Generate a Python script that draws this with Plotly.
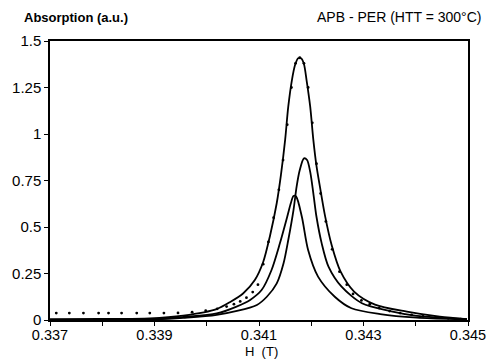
import plotly.graph_objects as go

# Field H (T) and absorption (a.u.)
big_x = [0.33700, 0.33796, 0.33891, 0.33955, 0.34019, 0.34045, 0.34070, 0.34092, 0.34108,
         0.34121, 0.34134, 0.34142, 0.34150, 0.34156, 0.34163, 0.34169, 0.34175, 0.34181,
         0.34186, 0.34191, 0.34198, 0.34204, 0.34210, 0.34217, 0.34226, 0.34239, 0.34256,
         0.34282, 0.34322, 0.34383, 0.34446, 0.34498]
big_y = [0.004, 0.006, 0.009, 0.024, 0.059, 0.097, 0.144, 0.215, 0.312,
         0.452, 0.629, 0.780, 0.968, 1.147, 1.290, 1.371, 1.407, 1.406,
         1.376, 1.290, 1.147, 0.968, 0.828, 0.710, 0.565, 0.403, 0.261,
         0.153, 0.083, 0.045, 0.018, 0.005]

mid_x = [0.33700, 0.33891, 0.33955, 0.34019, 0.34096, 0.34115, 0.34134, 0.34147, 0.34156,
         0.34166, 0.34172, 0.34178, 0.34186, 0.34192, 0.34198, 0.34204, 0.34210, 0.34220,
         0.34233, 0.34258, 0.34297, 0.34351, 0.34402, 0.34498]
mid_y = [0.000, 0.003, 0.011, 0.027, 0.081, 0.125, 0.197, 0.305, 0.430,
         0.591, 0.717, 0.806, 0.869, 0.860, 0.796, 0.681, 0.555, 0.412,
         0.287, 0.179, 0.090, 0.048, 0.022, 0.004]

low_x = [0.33700, 0.33891, 0.33955, 0.34019, 0.34057, 0.34083, 0.34105, 0.34124, 0.34140,
         0.34154, 0.34161, 0.34166, 0.34171, 0.34182, 0.34194, 0.34213, 0.34245, 0.34277,
         0.34332, 0.34402, 0.34498]
low_y = [0.000, 0.003, 0.016, 0.035, 0.072, 0.108, 0.161, 0.269, 0.412,
         0.555, 0.629, 0.667, 0.664, 0.555, 0.376, 0.233, 0.125, 0.063,
         0.032, 0.013, 0.003]

exp_x = [0.33712, 0.33737, 0.33764, 0.33793, 0.33812, 0.33837, 0.33866, 0.33891, 0.33918,
         0.33945, 0.33972, 0.33998, 0.34020, 0.34038, 0.34052, 0.34064, 0.34076, 0.34088,
         0.34098, 0.34108, 0.34118, 0.34128, 0.34138, 0.34146, 0.34154, 0.34162, 0.34170,
         0.34178, 0.34186, 0.34194, 0.34202, 0.34210, 0.34218, 0.34228, 0.34240, 0.34254,
         0.34268, 0.34280, 0.34296, 0.34312, 0.34330, 0.34350, 0.34370, 0.34392, 0.34414,
         0.34438, 0.34462, 0.34486]
exp_y = [0.037, 0.037, 0.037, 0.037, 0.037, 0.037, 0.037, 0.037, 0.037,
         0.038, 0.042, 0.050, 0.060, 0.072, 0.085, 0.100, 0.120, 0.150,
         0.190, 0.300, 0.420, 0.550, 0.700, 0.860, 1.050, 1.250, 1.380,
         1.410, 1.380, 1.250, 1.060, 0.840, 0.680, 0.530, 0.380, 0.260,
         0.190, 0.140, 0.105, 0.085, 0.064, 0.048, 0.037, 0.028, 0.020,
         0.014, 0.009, 0.005]

x_tickvals = [0.337, 0.338, 0.339, 0.340, 0.341, 0.342, 0.343, 0.344, 0.345]
x_ticktext = ["0.337", "", "0.339", "", "0.341", "", "0.343", "", "0.345"]
y_tickvals = [0, 0.25, 0.5, 0.75, 1, 1.25, 1.5]
y_ticktext = ["0", "0.25", "0.5", "0.75", "1", "1.25", "1.5"]

font = "Liberation Sans, Arial, sans-serif"
fig = go.Figure()
for xs, ys in [(big_x, big_y), (mid_x, mid_y), (low_x, low_y)]:
    fig.add_trace(go.Scatter(x=xs, y=ys, mode="lines",
                             line=dict(color="black", width=1.8, shape="spline", smoothing=0.8),
                             showlegend=False, hoverinfo="skip"))
fig.add_trace(go.Scatter(x=exp_x, y=exp_y, mode="markers",
                         marker=dict(color="black", size=2.8),
                         showlegend=False, hoverinfo="skip"))

fig.update_layout(
    width=490, height=360,
    margin=dict(l=50, r=22, t=41, b=40),
    paper_bgcolor="white", plot_bgcolor="white",
    font=dict(family=font, size=15, color="black"),
    xaxis=dict(range=[0.337, 0.345], tickvals=x_tickvals, ticktext=x_ticktext,
               showline=True, linecolor="black", linewidth=1.5, mirror=True,
               ticks="outside", ticklen=4, tickcolor="black", showgrid=False, zeroline=False,
               automargin=False, ticklabelstandoff=-3, tickfont=dict(size=14.5)),
    yaxis=dict(range=[0, 1.5], tickvals=y_tickvals, ticktext=y_ticktext,
               showline=True, linecolor="black", linewidth=1.5, mirror=True,
               ticks="outside", ticklen=4, tickcolor="black", showgrid=False, zeroline=False,
               automargin=False, ticklabelstandoff=0),
    annotations=[
        dict(text="<b>Absorption (a.u.)</b>", xref="paper", yref="paper",
             x=-0.067, y=1.086, xanchor="left", yanchor="middle", showarrow=False,
             font=dict(size=13)),
        dict(text="APB - PER (HTT = 300°C)", xref="paper", yref="paper",
             x=1.036, y=1.086, xanchor="right", yanchor="middle", showarrow=False,
             font=dict(size=14)),
        dict(text="H  (T)", xref="paper", yref="paper",
             x=0.507, y=-0.113, xanchor="center", yanchor="middle", showarrow=False,
             font=dict(size=13)),
    ],
)
fig.write_html("out.html")
